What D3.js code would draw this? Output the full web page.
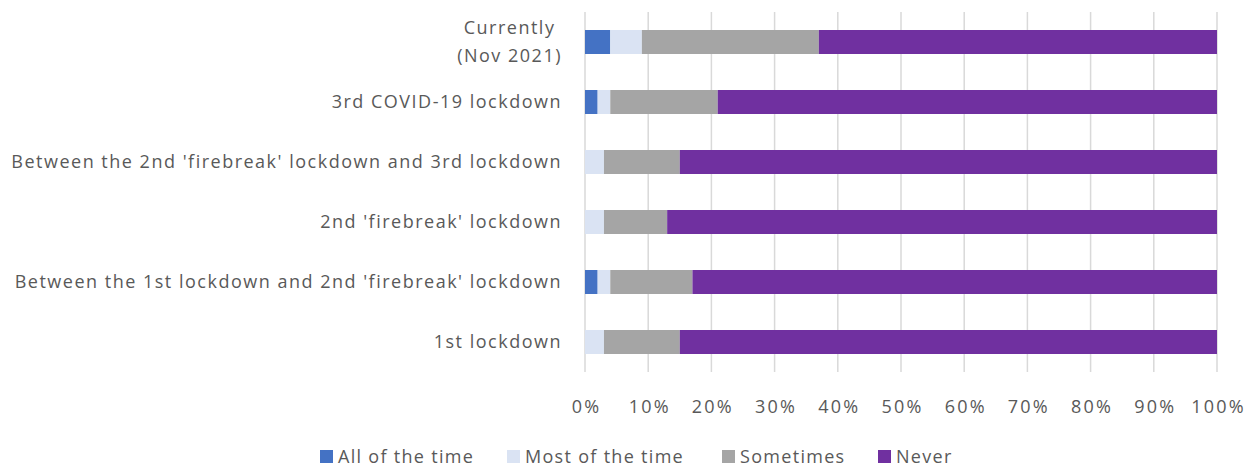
<!DOCTYPE html>
<html><head><meta charset="utf-8">
<script src="https://cdn.jsdelivr.net/npm/d3@7"></script>
<style>body{margin:0;background:#fff;} text{font-family:"Open Sans","Liberation Sans",sans-serif;fill:#595959;}</style>
</head><body><svg id="c" width="1255" height="468"></svg>
<script>
const categories = ["Currently\n(Nov 2021)", "3rd COVID-19 lockdown", "Between the 2nd 'firebreak' lockdown and 3rd lockdown", "2nd 'firebreak' lockdown", "Between the 1st lockdown and 2nd 'firebreak' lockdown", "1st lockdown"];
const seriesNames = ["All of the time", "Most of the time", "Sometimes", "Never"];
const allOfTheTime = [4, 2, 0, 0, 2, 0];
const mostOfTheTime = [5, 2, 3, 3, 2, 3];
const sometimes = [28, 17, 12, 10, 13, 12];
const never = [63, 79, 85, 87, 83, 85];
const tickValues = [0, 10, 20, 30, 40, 50, 60, 70, 80, 90, 100];
const colors = ["#4472c4", "#dae3f3", "#a5a5a5", "#7030a0"];

const svg = d3.select("#c");
const x = d3.scaleLinear().domain([0, 100]).range([585, 1217]);
const y = d3.scaleBand().domain(categories).range([12, 372]).paddingInner(0.6).paddingOuter(0.3);

// gridlines
svg.append("g").selectAll("line").data(tickValues).join("line")
  .attr("x1", d => x(d)).attr("x2", d => x(d)).attr("y1", 12).attr("y2", 372)
  .attr("stroke", "#d9d9d9").attr("stroke-width", 1.5);

const rows = categories.map((c, i) => ({cat: c, vals: [allOfTheTime[i], mostOfTheTime[i], sometimes[i], never[i]]}));
const stackData = rows.map(r => { const o = {cat: r.cat}; seriesNames.forEach((s, j) => o[s] = r.vals[j]); return o; });
const stacked = d3.stack().keys(seriesNames)(stackData);

svg.append("g").selectAll("g").data(stacked).join("g")
  .attr("fill", (d, i) => colors[i])
  .selectAll("rect").data(d => d).join("rect")
  .attr("x", d => x(d[0])).attr("width", d => x(d[1]) - x(d[0]))
  .attr("y", d => y(d.data.cat)).attr("height", y.bandwidth());

// x axis labels
const xAxis = d3.axisBottom(x).tickValues(tickValues).tickFormat(d => d + "%").tickSize(0).tickPadding(0);
const xg = svg.append("g").attr("transform", "translate(0,400)").call(xAxis);
xg.select(".domain").remove();
xg.selectAll("text").attr("font-size", 18).attr("fill", "#595959").attr("dy", "0.72em")
  .attr("letter-spacing", 2.2).attr("x", 1).style("font-family", null);

// y axis labels
const yAxis = d3.axisLeft(y).tickSize(0).tickPadding(0).tickFormat("");
const yg = svg.append("g").attr("transform", "translate(562,0)").call(yAxis);
yg.select(".domain").remove();
yg.selectAll(".tick").each(function(d) {
  const lines = d.split("\n");
  const t = d3.select(this).append("text").attr("font-size", 18)
    .attr("letter-spacing", 1.5).attr("fill", "#595959");
  const spans = lines.map((l, k) => t.append("tspan")
    .attr("y", (k - (lines.length - 1) / 2) * 28).attr("dy", "0.35em").text(l));
  const maxW = d3.max(spans, s => s.node().getComputedTextLength());
  t.attr("text-anchor", "middle");
  spans.forEach(s => s.attr("x", -maxW / 2));
});

// legend
const legX = [320, 507, 722, 878];
const lg = svg.append("g").selectAll("g").data(seriesNames).join("g")
  .attr("transform", (d, i) => `translate(${legX[i]},450)`);
lg.append("rect").attr("width", 13).attr("height", 13).attr("fill", (d, i) => colors[i]);
lg.append("text").attr("x", 18).attr("y", 6.5).attr("dy", "0.35em").attr("font-size", 18)
  .attr("letter-spacing", 1.3).text(d => d);
</script></body></html>
